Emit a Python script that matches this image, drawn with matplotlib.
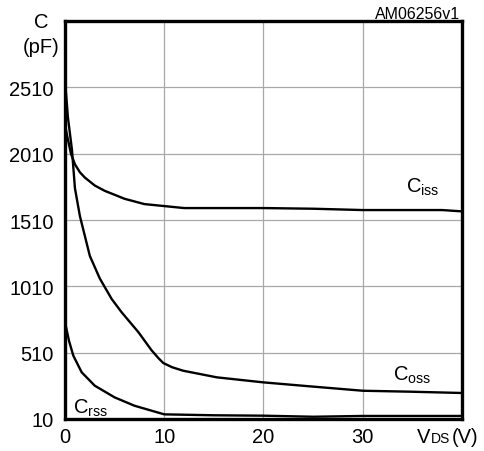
import numpy as np
import matplotlib
matplotlib.use('Agg')
import matplotlib.pyplot as plt

plt.rcParams['font.family'] = ['Liberation Sans', 'DejaVu Sans']
plt.rcParams['mathtext.fontset'] = 'custom'
plt.rcParams['mathtext.rm'] = 'Liberation Sans'
plt.rcParams['mathtext.it'] = 'Liberation Sans'

# capacitance vs drain-source voltage (pF)
vds_iss = [0, 0.2, 0.6, 1.0, 1.5, 2.0, 3.0, 4.0, 5.0, 6.0, 8.0, 10, 12, 20, 25, 30, 38, 40]
c_iss = [2230, 2150, 2010, 1930, 1870, 1830, 1770, 1730, 1700, 1670, 1630, 1615, 1600, 1600, 1595, 1585, 1585, 1575]

vds_oss = [0, 0.3, 0.7, 1.0, 1.5, 2.5, 3.5, 4.7, 5.7, 7.4, 8.7, 9.4, 9.9, 10.8, 11.9, 15.3, 20, 24.7, 30, 34.7, 40]
c_oss = [2560, 2280, 2040, 1750, 1540, 1240, 1070, 915, 815, 664, 530, 470, 432, 400, 374, 324, 286, 256, 223, 216, 206]

vds_rss = [0, 0.4, 0.84, 1.68, 3.0, 5.0, 7.0, 10, 15, 20, 25, 30, 40]
c_rss = [740, 600, 487, 362, 261, 173, 110, 45, 38, 35, 27, 33, 33]

x_ticks = [0, 10, 20, 30]
y_ticks = [10, 510, 1010, 1510, 2010, 2510]

FS = 14.5

fig = plt.figure(figsize=(4.84, 4.52), dpi=100)
ax = fig.add_axes([0.1343, 0.0708, 0.8202, 0.8805])

for v, c in [(vds_iss, c_iss), (vds_oss, c_oss), (vds_rss, c_rss)]:
    ax.plot(v, c, color='black', lw=1.7, solid_capstyle='round', zorder=3)

ax.set_xlim(0, 40)
ax.set_ylim(10, 3010)
ax.set_xticks(x_ticks)
ax.set_yticks(y_ticks)
ax.set_xticklabels([str(t) for t in x_ticks], fontsize=FS)
ax.set_yticklabels([str(t) for t in y_ticks], fontsize=FS)
ax.tick_params(axis='x', length=0, pad=5.5)
ax.tick_params(axis='y', length=0, pad=8)
ax.grid(True, color='#a8a8a8', lw=0.9)
ax.set_axisbelow(True)
for s in ax.spines.values():
    s.set_linewidth(2.4)

# axis titles
ax.text(-0.06, 1.0, 'C', transform=ax.transAxes, ha='center', va='center', fontsize=FS)
ax.text(-0.06, 0.937, '(pF)', transform=ax.transAxes, ha='center', va='center', fontsize=FS)
ax.text(0.995, 1.02, 'AM06256v1', transform=ax.transAxes, ha='right', va='center', fontsize=11.5)

# V_DS(V) at the end of the x axis, DS set smaller on the same baseline
y_base = -163
ax.text(35.5, y_base, 'V', ha='left', va='baseline', fontsize=FS, clip_on=False)
ax.text(36.85, y_base, 'DS', ha='left', va='baseline', fontsize=10, clip_on=False)
ax.text(38.95, y_base, '(V)', ha='left', va='baseline', fontsize=FS, clip_on=False)

# curve labels
ax.text(34.4, 1760, r'C$_{\mathrm{iss}}$', fontsize=FS, va='center')
ax.text(33.0, 350, r'C$_{\mathrm{oss}}$', fontsize=FS, va='center')
ax.text(0.8, 100, r'C$_{\mathrm{rss}}$', fontsize=FS, va='center')

fig.savefig('out.png', dpi=100)
